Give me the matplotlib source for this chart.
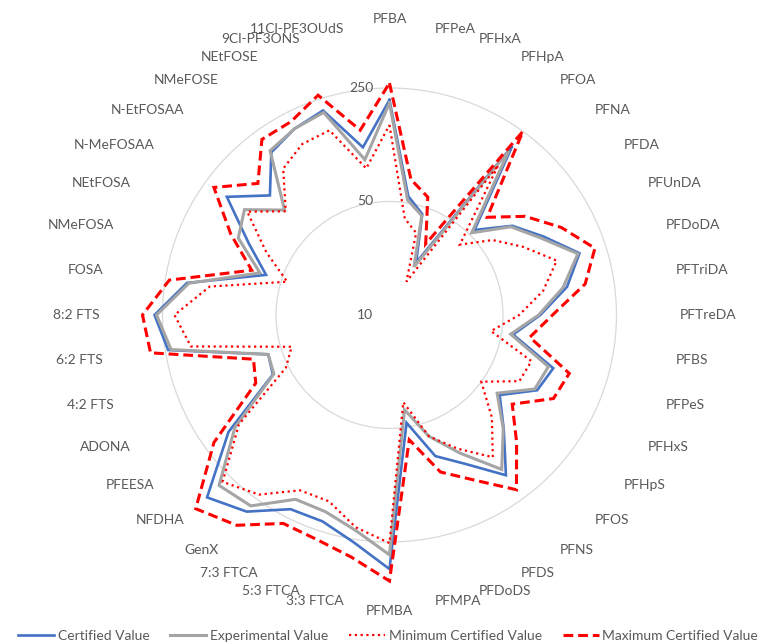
import numpy as np
import matplotlib
matplotlib.use("Agg")
import matplotlib.pyplot as plt
from matplotlib.lines import Line2D
from matplotlib.ticker import NullLocator, NullFormatter

plt.rcParams["font.family"] = ["Lato", "DejaVu Sans"]

compounds = [
    "PFBA", "PFPeA", "PFHxA", "PFHpA", "PFOA", "PFNA", "PFDA", "PFUnDA",
    "PFDoDA", "PFTriDA", "PFTreDA", "PFBS", "PFPeS", "PFHxS", "PFHpS", "PFOS",
    "PFNS", "PFDS", "PFDoDS", "PFMPA", "PFMBA", "3:3 FTCA", "5:3 FTCA",
    "7:3 FTCA", "GenX", "NFDHA", "PFEESA", "ADONA", "4:2 FTS", "6:2 FTS",
    "8:2 FTS", "FOSA", "NMeFOSA", "NEtFOSA", "N-MeFOSAA", "N-EtFOSAA",
    "NMeFOSE", "NEtFOSE", "9Cl-PF3ONS", "11Cl-PF3OUdS",
]

certified = [211, 55, 45, 23, 194, 55, 86, 116, 170, 128, 85, 59, 115, 105,
             69, 99, 166, 107, 82, 47, 367, 261, 217, 220, 314, 388, 168, 64,
             61, 240, 280, 183, 63, 94, 173, 110, 173, 194, 211, 111]
experimental = [202, 52, 44, 21.5, 178, 52, 84, 111, 166, 121, 83, 57, 107,
                101, 66, 98, 150, 90, 61, 39, 300, 220, 188, 188, 284, 305,
                150, 63, 61, 230, 272, 178, 69, 111, 127, 82, 178, 194, 205, 93]
minimum = [148, 40, 34, 17, 138, 41, 61, 84, 121, 91, 63, 43, 83, 79, 50, 78,
           121, 84, 61, 35, 254, 211, 161, 163, 233, 284, 140, 52, 43, 173,
           211, 132, 46, 71, 121, 80, 130, 152, 157, 82]
maximum = [268, 70, 58, 31, 250, 71, 108, 154, 214, 166, 101, 75, 146, 136,
           86, 128, 214, 138, 104, 60, 435, 323, 284, 276, 399, 487, 217, 84,
           76, 309, 332, 236, 78, 125, 217, 140, 217, 217, 265, 142]

radial_ticks = [10, 50, 250]
series_names = ["Certified Value", "Experimental Value",
                "Minimum Certified Value", "Maximum Certified Value"]

r_min, r_max = 10, 611
text_color = "#595959"

fig = plt.figure(figsize=(7.76, 6.44), dpi=100)
ax = fig.add_axes([0.1282, 0.0606, 0.7474, 0.9006], projection="polar")
ax.set_theta_zero_location("N")
ax.set_theta_direction(-1)
ax.set_rscale("log")
ax.set_rlim(r_min, r_max)

n = len(compounds)
theta = np.linspace(0, 2 * np.pi, n, endpoint=False)
theta_closed = np.append(theta, theta[0])


def closed(vals):
    return np.append(np.asarray(vals, float), vals[0])


styles = [
    dict(color="#4472C4", lw=1.9, ls="-"),
    dict(color="#A5A5A5", lw=2.2, ls="-"),
    dict(color="#FF0000", lw=1.6, ls=(0, (1, 1.6))),
    dict(color="#FF0000", lw=2.2, ls=(0, (3.2, 1.6))),
]
data = [certified, experimental, minimum, maximum]
for vals, st in zip(data, styles):
    ax.plot(theta_closed, closed(vals), color=st["color"], lw=st["lw"],
            ls=st["ls"], solid_joinstyle="miter", dash_joinstyle="miter",
            clip_on=False, zorder=3)

# radial grid and labels
ax.set_rgrids(radial_ticks, labels=[""] * len(radial_ticks))
ax.yaxis.set_minor_locator(NullLocator())
ax.yaxis.set_minor_formatter(NullFormatter())
ax.yaxis.grid(True, color="#D9D9D9", lw=0.9)
ax.xaxis.grid(False)
ax.set_xticks([])
ax.spines["polar"].set_visible(False)
for v in radial_ticks:
    ax.annotate(str(v), xy=(0, v), xytext=(-16, 0), textcoords="offset pixels",
                ha="right", va="center", fontsize=10, color=text_color,
                annotation_clip=False)

# category labels around the rim
for t, name in zip(theta, compounds):
    s, c = np.sin(t), np.cos(t)
    if s > 1e-3:
        ha = "left"
    elif s < -1e-3:
        ha = "right"
    else:
        ha = "center"
    if abs(s) < 1e-3:
        va = "bottom" if c > 0 else "top"
    else:
        va = "center"
    ax.text(t, r_max, name, ha=ha, va=va, fontsize=10, color=text_color,
            clip_on=False)

handles = [Line2D([], [], color=st["color"], lw=st["lw"], ls=st["ls"])
           for st in styles]
fig.legend(handles, series_names, loc="center", bbox_to_anchor=(0.5, 0.013),
           ncol=4, frameon=False, handlelength=2.6, handletextpad=0.25,
           columnspacing=1.5, fontsize=10, labelcolor=text_color,
           borderpad=0.1, borderaxespad=0.1)

fig.savefig("out.png", dpi=100)
